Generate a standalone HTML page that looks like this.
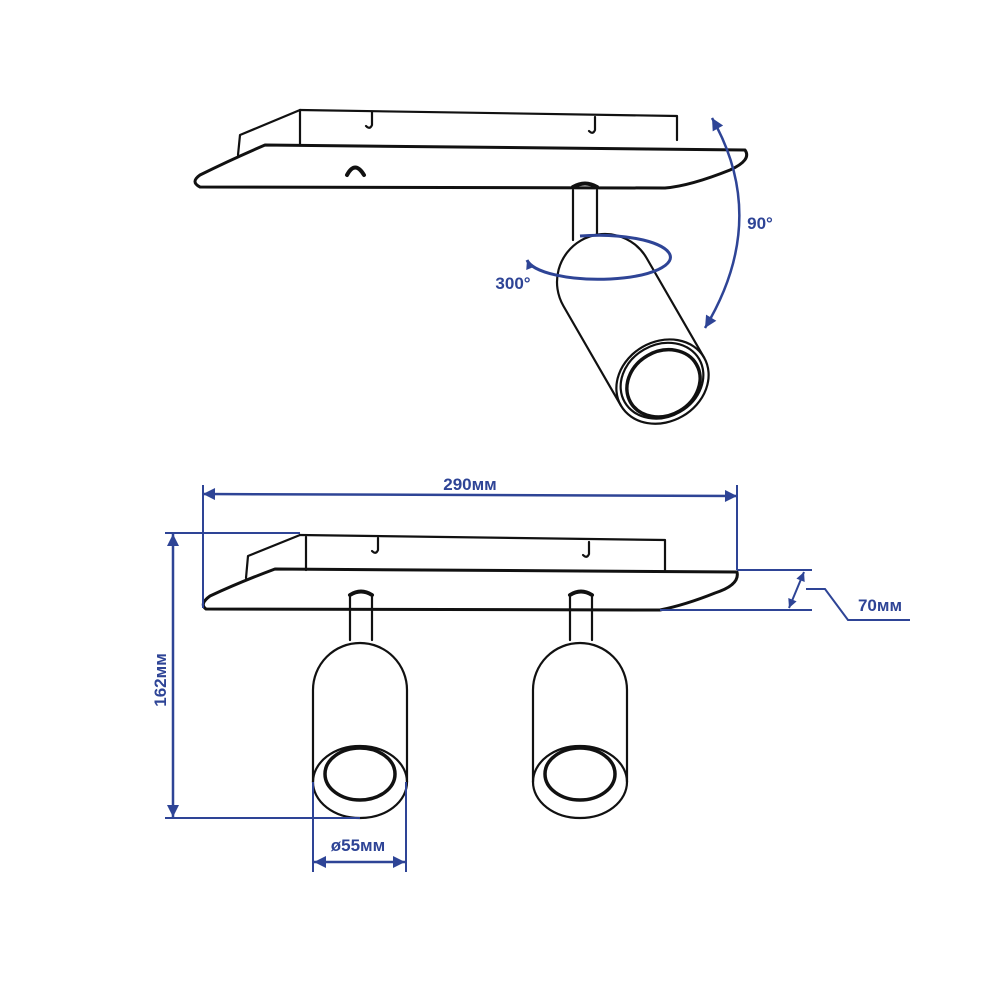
<!DOCTYPE html>
<html><head><meta charset="utf-8"><style>
html,body{margin:0;padding:0;background:#fff}
svg{display:block}
text{font-family:"Liberation Sans",sans-serif;font-weight:bold;fill:#2e4496}
</style></head><body>
<svg width="1000" height="1000" viewBox="0 0 1000 1000" xmlns="http://www.w3.org/2000/svg">
<defs>
<marker id="a" viewBox="0 0 10 10" refX="10" refY="5" markerWidth="12" markerHeight="9" orient="auto-start-reverse" markerUnits="userSpaceOnUse" >
<path d="M0,0 L10,5 L0,10 z" fill="#2e4496"/></marker>
<marker id="b" viewBox="0 0 10 10" refX="10" refY="5" markerWidth="16" markerHeight="12" orient="auto-start-reverse" markerUnits="userSpaceOnUse">
<path d="M0,0 L10,5 L0,10 z" fill="#2e4496"/></marker>
</defs>
<g fill="none" stroke="#111" stroke-width="2.2" stroke-linejoin="round" stroke-linecap="round">
<!-- TOP VIEW -->
<path d="M300,110 L677,116 L677,140"/>
<path d="M300,110 L300,145"/>
<path d="M300,110 L240,135 L238,155"/>
<path d="M265,145 L745,150 Q752,160 730,170 Q690,186 665,188 L200,187 Q190,182 200,175 Q230,160 265,145 Z" stroke-width="3"/>
<path d="M372,112 L372,125 Q370,130 366,126"/>
<path d="M595,117 L595,130 Q593,135 589,131"/>
<path d="M347,175 Q355,160 364,175" stroke-width="4"/>
<path d="M573,190 L573,240 M597,190 L597,235"/>
<path d="M573,187 Q585,180 597,187" stroke-width="4"/>
<g transform="rotate(-30 605 282)">
<path d="M557,282 A48,48 0 0 1 653,282 L653,397 M557,282 L557,397"/>
<ellipse cx="605" cy="397" rx="48" ry="40"/>
<ellipse cx="605" cy="399" rx="38" ry="32" stroke-width="3.5"/>
<ellipse cx="605" cy="396" rx="43" ry="36"/>
</g>
<!-- BOTTOM VIEW -->
<path d="M300,535 L665,540 L665,570"/>
<path d="M306,537 L306,570"/>
<path d="M300,535 L248,556 L246,578"/>
<path d="M275,569 L737,572 Q740,585 715,593 Q685,605 660,610 L206,609 Q199,604 210,596 Q240,582 275,569 Z" stroke-width="3"/>
<path d="M378,538 L378,550 Q376,555 372,551"/>
<path d="M589,542 L589,554 Q587,559 583,555"/>
<path d="M350,597 L350,640 M372,597 L372,640"/>
<path d="M350,595 Q361,588 372,595" stroke-width="4"/>
<path d="M570,597 L570,640 M592,597 L592,640"/>
<path d="M570,595 Q581,588 592,595" stroke-width="4"/>
<path d="M313,690 A47,47 0 0 1 407,690 L407,782 M313,690 L313,782"/>
<ellipse cx="360" cy="782" rx="47" ry="36"/>
<ellipse cx="360" cy="774" rx="35" ry="26" stroke-width="3.5"/>
<path d="M533,690 A47,47 0 0 1 627,690 L627,782 M533,690 L533,782"/>
<ellipse cx="580" cy="782" rx="47" ry="36"/>
<ellipse cx="580" cy="774" rx="35" ry="26" stroke-width="3.5"/>
</g>
<g fill="none" stroke="#2e4496" stroke-width="2">
<!-- 300 ellipse -->
<path d="M580,236 A72,22 0 1 1 527,260" stroke-width="3" marker-end="url(#a)"/>
<!-- 90 arc -->
<path d="M712,118 Q770,220 705,328" stroke-width="2.5" marker-start="url(#b)" marker-end="url(#b)"/>
<!-- 290 -->
<path d="M203,485 L203,608 M737,485 L737,570"/>
<path d="M203,494 L737,496" stroke-width="2.5" marker-start="url(#b)" marker-end="url(#b)"/>
<!-- 162 -->
<path d="M165,533 L300,533 M165,818 L360,818"/>
<path d="M173,534 L173,817" stroke-width="2.5" marker-start="url(#b)" marker-end="url(#b)"/>
<!-- 55 -->
<path d="M313,782 L313,872 M406,782 L406,872"/>
<path d="M314,862 L405,862" stroke-width="2.5" marker-start="url(#b)" marker-end="url(#b)"/>
<!-- 70 -->
<path d="M737,570 L812,570 M660,610 L812,610"/>
<path d="M804,572 L789,608" stroke-width="2" marker-start="url(#a)" marker-end="url(#a)"/>
<path d="M806,589 L825,589 L848,620 L910,620"/>
</g>
<text x="470" y="490" font-size="17" text-anchor="middle">290мм</text>
<text x="880" y="611" font-size="17" text-anchor="middle">70мм</text>
<text x="358" y="851" font-size="17" text-anchor="middle">ø55мм</text>
<text transform="translate(166,680) rotate(-90)" font-size="17" text-anchor="middle">162мм</text>
<text x="760" y="229" font-size="17" text-anchor="middle">90°</text>
<text x="513" y="289" font-size="17" text-anchor="middle">300°</text>
</svg>
</body></html>
